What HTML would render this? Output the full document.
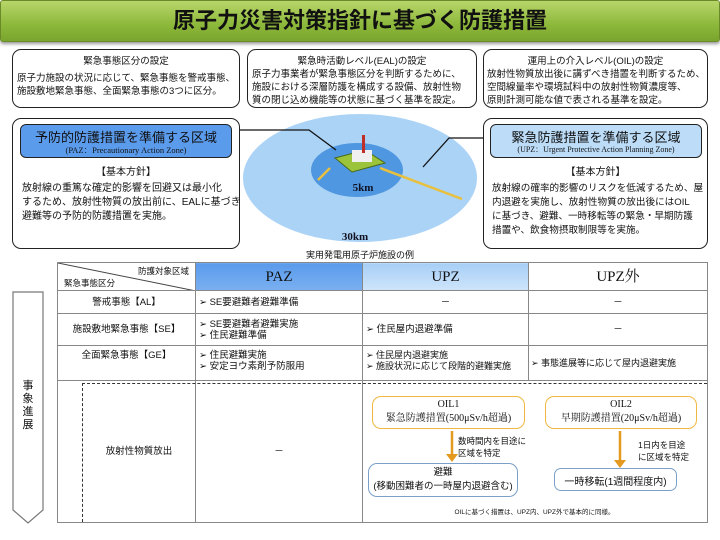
<!DOCTYPE html>
<html><head><meta charset="utf-8"><style>
*{margin:0;padding:0;box-sizing:border-box}
body{width:720px;height:540px;background:#fff;position:relative;overflow:hidden;font-family:"Liberation Sans","Noto Sans CJK JP",sans-serif;color:#111}
.a{position:absolute;white-space:nowrap}
.box{position:absolute;border:1.5px solid #222;border-radius:9px;background:#fff}
.t{font-size:9.5px;line-height:13px}
.c{text-align:center}
.serif{font-family:"Liberation Serif","Noto Serif CJK SC",serif}
table{position:absolute;left:57px;top:262px;width:650px;border-collapse:collapse;font-size:9.5px;table-layout:fixed}
td{border:1px solid #888;padding:0 3px;vertical-align:middle;white-space:nowrap;overflow:hidden;line-height:11px}
</style></head><body>
<div class="a" style="left:0;top:0;width:720px;height:42px;background:linear-gradient(#b8d66a,#8cb83a 60%,#7aa52e);border:1px solid #6a8a2a;border-radius:3px;box-shadow:0 2px 3px #999"></div>
<div class="a c" style="left:0;top:6px;width:720px;font-size:22px;font-weight:bold;line-height:30px">原子力災害対策指針に基づく防護措置</div>

<svg class="a" style="left:0;top:0" width="720" height="260">
<ellipse cx="360" cy="178" rx="117" ry="64" fill="#abd3f5"/>
<ellipse cx="357" cy="170" rx="46" ry="27" fill="#4f97e0"/>
<polygon points="335,158 365,150 385,163 352,172" fill="#9cc43a" stroke="#4a6a1a"/>
<rect x="352" y="150" width="20" height="12" fill="#f0f0f0"/>
<rect x="362" y="135" width="3" height="18" fill="#c0302a"/>
<line x1="330" y1="168" x2="318" y2="180" stroke="#e8c040" stroke-width="2.5"/>
<line x1="380" y1="168" x2="462" y2="199" stroke="#e8c040" stroke-width="2.5"/>
<polyline points="240,130 309,130 336,150" fill="none" stroke="#111" stroke-width="1.3"/>
<polyline points="483,138 449,138 423,167" fill="none" stroke="#111" stroke-width="1.3"/>
<text x="363" y="191" font-family="Liberation Serif,serif" font-weight="bold" font-size="11" text-anchor="middle" fill="#112">5km</text>
<text x="355" y="240" font-family="Liberation Serif,serif" font-weight="bold" font-size="11" text-anchor="middle" fill="#112">30km</text>
</svg>

<div class="box" style="left:12px;top:49px;width:228px;height:59px"></div>
<div class="a t c" style="left:12px;top:55px;width:228px">緊急事態区分の設定</div>
<div class="a t" style="left:17px;top:72px">原子力施設の状況に応じて、緊急事態を警戒事態、<br>施設敷地緊急事態、全面緊急事態の3つに区分。</div>

<div class="box" style="left:247px;top:49px;width:230px;height:59px"></div>
<div class="a t c" style="left:247px;top:55px;width:230px">緊急時活動レベル(EAL)の設定</div>
<div class="a t" style="left:252px;top:68px">原子力事業者が緊急事態区分を判断するために、<br>施設における深層防護を構成する設備、放射性物<br>質の閉じ込め機能等の状態に基づく基準を設定。</div>

<div class="box" style="left:483px;top:49px;width:225px;height:59px"></div>
<div class="a t c" style="left:483px;top:55px;width:225px">運用上の介入レベル(OIL)の設定</div>
<div class="a t" style="left:487px;top:68px">放射性物質放出後に講ずべき措置を判断するため、<br>空間線量率や環境試料中の放射性物質濃度等、<br>原則計測可能な値で表される基準を設定。</div>

<div class="a c" style="left:260px;top:248px;width:200px;font-size:9px">実用発電用原子炉施設の例</div>

<div class="box" style="left:12px;top:118px;width:228px;height:131px"></div>
<div class="a c" style="left:20px;top:124px;width:212px;height:34px;background:#5b9bec;border:1.5px solid #222;border-radius:6px"></div>
<div class="a c" style="left:20px;top:127px;width:212px;font-size:13px">予防的防護措置を準備する区域</div>
<div class="a c serif" style="left:20px;top:144px;width:212px;font-size:8.5px">(PAZ：Precautionary Action Zone)</div>
<div class="a t c" style="left:12px;top:166px;width:228px;font-size:10px">【基本方針】</div>
<div class="a" style="left:22px;top:182px;font-size:10px;line-height:14px">放射線の重篤な確定的影響を回避又は最小化<br>するため、放射性物質の放出前に、EALに基づき<br>避難等の予防的防護措置を実施。</div>

<div class="box" style="left:483px;top:118px;width:225px;height:131px"></div>
<div class="a" style="left:490px;top:124px;width:212px;height:34px;background:#bcdcf8;border:1.5px solid #222;border-radius:6px"></div>
<div class="a c" style="left:490px;top:127px;width:212px;font-size:13px">緊急防護措置を準備する区域</div>
<div class="a c serif" style="left:490px;top:144px;width:212px;font-size:8px">(UPZ：Urgent Protective Action Planning Zone)</div>
<div class="a t c" style="left:483px;top:166px;width:225px;font-size:10px">【基本方針】</div>
<div class="a" style="left:492px;top:182px;font-size:9.6px;line-height:14px">放射線の確率的影響のリスクを低減するため、屋<br>内退避を実施し、放射性物質の放出後にはOIL<br>に基づき、避難、一時移転等の緊急・早期防護<br>措置や、飲食物摂取制限等を実施。</div>

<table>
<colgroup><col style="width:138px"><col style="width:167px"><col style="width:166px"><col style="width:179px"></colgroup>
<tr style="height:28px"><td style="position:relative;padding:0"><svg class="a" style="left:0;top:0" width="138" height="28"><line x1="0" y1="0" x2="138" y2="28" stroke="#444"/></svg><span class="a" style="right:6px;top:3px;font-size:8.5px">防護対象区域</span><span class="a" style="left:6px;top:15px;font-size:8.5px">緊急事態区分</span></td>
<td class="c serif" style="background:linear-gradient(#5b9bec,#7ab0f0);font-size:15px;line-height:18px">PAZ</td>
<td class="c serif" style="background:linear-gradient(#a7cff6,#cfe5fb);font-size:15px;line-height:18px">UPZ</td>
<td class="c serif" style="font-size:15px;line-height:18px">UPZ外</td></tr>
<tr style="height:23px"><td class="c">警戒事態【AL】</td><td>➢ SE要避難者避難準備</td><td class="c">－</td><td class="c">－</td></tr>
<tr style="height:32px"><td class="c">施設敷地緊急事態【SE】</td><td>➢ SE要避難者避難実施<br>➢ 住民避難準備</td><td>➢ 住民屋内退避準備</td><td class="c">－</td></tr>
<tr style="height:35px"><td class="c" style="vertical-align:top;padding-top:4px">全面緊急事態【GE】</td><td style="vertical-align:top;padding-top:4px">➢ 住民避難実施<br>➢ 安定ヨウ素剤予防服用</td><td style="font-size:9px;vertical-align:top;padding-top:4px">➢ 住民屋内退避実施<br>➢ 施設状況に応じて段階的避難実施</td><td style="font-size:9px;padding:0 2px">➢ 事態進展等に応じて屋内退避実施</td></tr>
<tr style="height:142px"><td class="c" style="padding-left:28px">放射性物質放出</td><td class="c">－</td><td colspan="2"></td></tr>
</table>
<div class="a" style="left:82px;top:383px;width:625px;border-top:1.2px dashed #333"></div>
<div class="a" style="left:82px;top:383px;height:139px;border-left:1.2px dashed #333"></div>

<svg class="a" style="left:10px;top:290px" width="40" height="240"><polygon points="3,2 33,2 33,220 18,233 3,220" fill="#fff" stroke="#777" stroke-width="1.2"/></svg>
<div class="a c" style="left:15px;top:380px;width:26px;font-size:11px;line-height:13px">事<br>象<br>進<br>展</div>

<div class="a" style="left:372px;top:396px;width:153px;height:33px;border:1.5px solid #f0b840;border-radius:9px"></div>
<div class="a c serif" style="left:372px;top:398px;width:153px;font-size:10px;line-height:14px">OIL1<br>緊急防護措置(500μSv/h超過)</div>
<div class="a" style="left:545px;top:396px;width:152px;height:33px;border:1.5px solid #f0b840;border-radius:9px"></div>
<div class="a c serif" style="left:545px;top:398px;width:152px;font-size:10px;line-height:14px">OIL2<br>早期防護措置(20μSv/h超過)</div>
<svg class="a" style="left:0;top:0" width="720" height="540">
<line x1="452" y1="431" x2="452" y2="456" stroke="#e39a1e" stroke-width="2.5"/><polygon points="446,454 458,454 452,462" fill="#e39a1e"/>
<line x1="620" y1="431" x2="620" y2="462" stroke="#e39a1e" stroke-width="2.5"/><polygon points="614,460 626,460 620,468" fill="#e39a1e"/>
</svg>
<div class="a" style="left:458px;top:435px;font-size:8.5px;line-height:12px">数時間内を目途に<br>区域を特定</div>
<div class="a" style="left:638px;top:439px;font-size:8.5px;line-height:12px">1日内を目途<br>に区域を特定</div>
<div class="a" style="left:368px;top:463px;width:150px;height:34px;border:1.5px solid #7aa0c8;border-radius:9px"></div>
<div class="a c" style="left:368px;top:466px;width:150px;font-size:9.5px;line-height:14px">避難<br>(移動困難者の一時屋内退避含む)</div>
<div class="a" style="left:554px;top:468px;width:123px;height:23px;border:1.5px solid #7aa0c8;border-radius:7px"></div>
<div class="a c" style="left:554px;top:473px;width:123px;font-size:10px">一時移転(1週間程度内)</div>
<div class="a c" style="left:362px;top:506px;width:345px;font-size:6.5px">OILに基づく措置は、UPZ内、UPZ外で基本的に同様。</div>
</body></html>
